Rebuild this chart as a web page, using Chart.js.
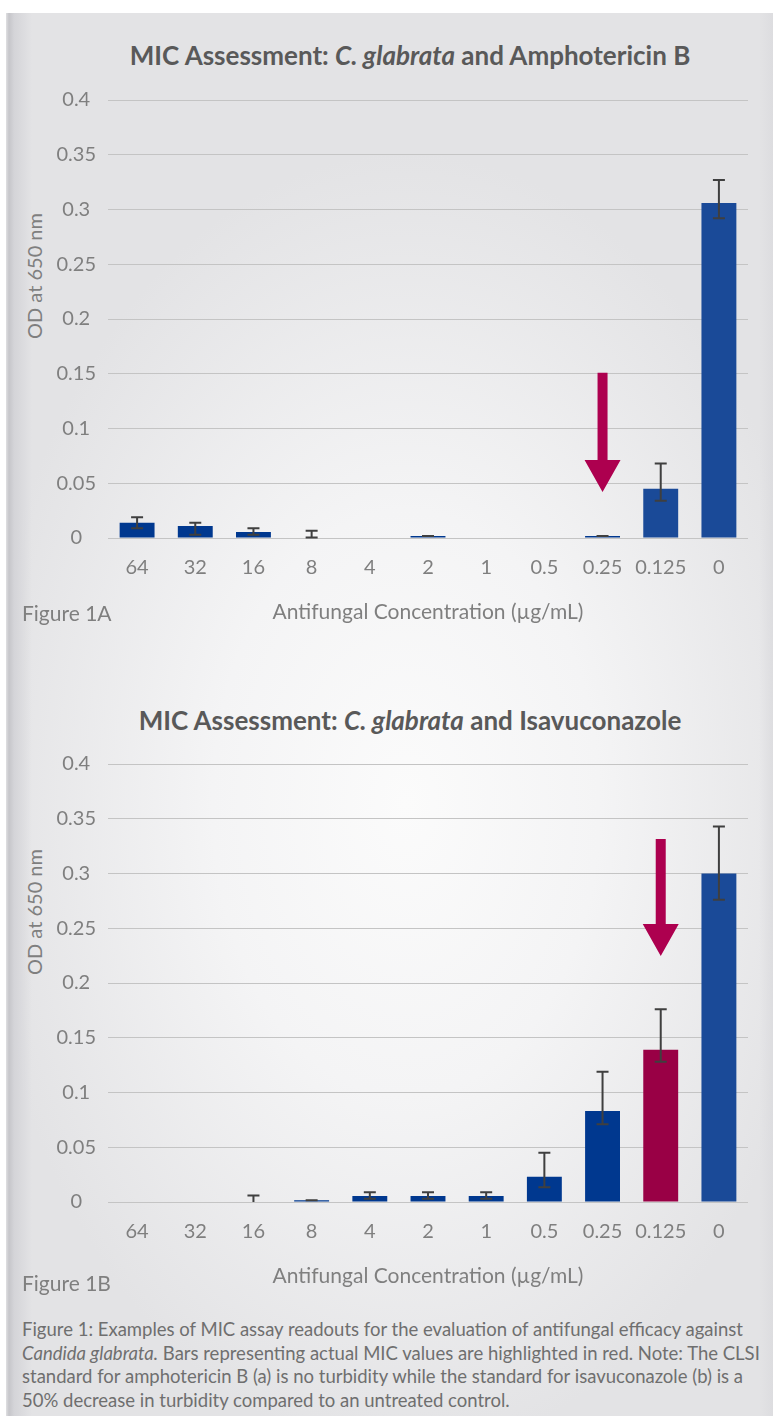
<!DOCTYPE html>
<html>
<head>
<meta charset="utf-8">
<script src="https://cdn.jsdelivr.net/npm/chart.js@4.4.1/dist/chart.umd.min.js"></script>
<style>
  html, body { margin: 0; padding: 0; background: #ffffff; }
  body { width: 773px; height: 1416px; position: relative; overflow: hidden; font-family: Lato, "Open Sans", sans-serif; }
  #panel {
    position: absolute; left: 6px; top: 13px; width: 767px; height: 1403px;
    background: radial-gradient(ellipse 430px 650px at 400px 790px, #fbfbfb 0%, #f4f4f5 45%, #e3e3e5 100%);
  }
  #panel::before {
    content: ""; position: absolute; left: 0; top: 0; bottom: 0; width: 26px;
    background: linear-gradient(to right, #e0e0e2 0px, #c6c6ca 3px, #d4d4d8 8px, rgba(227,227,229,0) 26px);
  }
  #panel::after {
    content: ""; position: absolute; right: 0; top: 0; bottom: 0; width: 14px;
    background: linear-gradient(to left, rgba(220,220,223,0.9) 0px, rgba(227,227,229,0) 14px);
  }
  canvas { position: absolute; left: 6px; }
  .title {
    position: absolute; left: 0; width: 820px; text-align: center;
    font-weight: 700; font-size: 26px; line-height: 30px; color: #595959;
  }
  .ytitle {
    position: absolute; width: 200px; height: 24px; line-height: 24px; text-align: center;
    font-size: 20px; color: #7f7f7f; transform: rotate(-90deg);
  }
  .fig {
    position: absolute; left: 22px; font-size: 21px; line-height: 24px; color: #7f7f7f;
  }
  .caption {
    position: absolute; left: 22px; top: 1318px; font-size: 18.5px; line-height: 23.7px; color: #6f6f6f;
    white-space: nowrap;
  }
</style>
</head>
<body>
<div id="panel"></div>

<div class="title" style="top:40px">MIC Assessment: <i>C. glabrata</i> and Amphotericin B</div>
<div class="ytitle" style="left:-66px; top:264px">OD at 650 nm</div>
<canvas id="ampB" width="767" height="620" style="top:13px"></canvas>
<div class="fig" style="top:601px">Figure 1A</div>

<div class="title" style="top:705px">MIC Assessment: <i>C. glabrata</i> and Isavuconazole</div>
<div class="ytitle" style="left:-66px; top:900px">OD at 650 nm</div>
<canvas id="isa" width="767" height="650" style="top:650px"></canvas>
<div class="fig" style="top:1271px">Figure 1B</div>

<div class="caption">Figure 1: Examples of MIC assay readouts for the evaluation of antifungal efficacy against<br><i>Candida glabrata.</i> Bars representing actual MIC values are highlighted in red. Note: The CLSI<br>standard for amphotericin B (a) is no turbidity while the standard for isavuconazole (b) is a<br>50% decrease in turbidity compared to an untreated control.</div>

<script>
// Antifungal concentrations (µg/mL), shared by both panels
const concentrations = ['64', '32', '16', '8', '4', '2', '1', '0.5', '0.25', '0.125', '0'];

// Y axis ticks (OD at 650 nm)
const odMin = 0;
const odMax = 0.4;
const odStep = 0.05;

// Panel A: C. glabrata + amphotericin B
const ampBOd        = [0.014, 0.011, 0.0055, 0.0005, 0, 0.0018, 0, 0, 0.0018, 0.045, 0.306];
const ampBErrPlus   = [0.005, 0.003, 0.0035, 0.0062, null, 0, null, null, 0, 0.023, 0.021];
const ampBErrMinus  = [0.005, 0.008, 0.0025, 0,      null, 0, null, null, 0, 0.011, 0.014];
const ampBMicMark   = { category: '0.25', from: 0.151, to: 0.042 };

// Panel B: C. glabrata + isavuconazole
const isaOd         = [0, 0, 0, 0.0015, 0.0055, 0.0055, 0.0055, 0.023, 0.083, 0.139, 0.300];
const isaErrPlus    = [null, null, 0.006, 0, 0.0034, 0.0034, 0.0034, 0.022, 0.036, 0.037, 0.043];
const isaErrMinus   = [null, null, 0,     0, 0.0025, 0.0025, 0.0025, 0.0095, 0.012, 0.011, 0.024];
const isaMicMark    = { category: '0.125', from: 0.3315, to: 0.2247 };

// Colours
const NAVY = '#00388f';
const BLUE = '#1a4a98';
const RED = '#990045';
const ARROW = '#ad004f';
const ampBColors = [NAVY, NAVY, NAVY, NAVY, NAVY, NAVY, NAVY, NAVY, NAVY, BLUE, BLUE];
const isaColors  = [NAVY, NAVY, NAVY, NAVY, NAVY, NAVY, NAVY, NAVY, NAVY, RED, BLUE];

// Draws asymmetric error bars on top of the bars
const errorBarsPlugin = {
  id: 'errorBars',
  afterDatasetsDraw(chart, args, opts) {
    const { ctx } = chart;
    const y = chart.scales.y;
    const meta = chart.getDatasetMeta(0);
    const values = chart.data.datasets[0].data;
    ctx.save();
    ctx.strokeStyle = opts.color;
    ctx.lineWidth = opts.lineWidth;
    ctx.lineCap = 'butt';
    values.forEach((v, i) => {
      const plus = opts.plus[i];
      const minus = opts.minus[i];
      if (plus === null || plus === undefined) return;
      const x = meta.data[i].x;
      const hi = v + plus;
      const lo = v - minus;
      const yHi = y.getPixelForValue(hi);
      const yLo = y.getPixelForValue(lo);
      const hw = opts.capWidth / 2;
      ctx.beginPath();
      if (yLo - yHi > 0.5) {
        ctx.moveTo(x, yHi);
        ctx.lineTo(x, yLo);
      }
      ctx.moveTo(x - hw, yHi);
      ctx.lineTo(x + hw, yHi);
      if (lo > 0) {
        ctx.moveTo(x - hw, yLo);
        ctx.lineTo(x + hw, yLo);
      }
      ctx.stroke();
    });
    ctx.restore();
  }
};

// Downward arrow pointing at the MIC concentration
const micArrowPlugin = {
  id: 'micArrow',
  afterDatasetsDraw(chart, args, opts) {
    const { ctx } = chart;
    const xs = chart.scales.x;
    const ys = chart.scales.y;
    const x = xs.getPixelForValue(chart.data.labels.indexOf(opts.mark.category));
    const yTop = ys.getPixelForValue(opts.mark.from);
    const yTip = ys.getPixelForValue(opts.mark.to);
    const yBase = yTip - opts.headLength;
    const sw = opts.shaftWidth / 2;
    const hw = opts.headWidth / 2;
    ctx.save();
    ctx.fillStyle = opts.color;
    ctx.beginPath();
    ctx.moveTo(x - sw, yTop);
    ctx.lineTo(x + sw, yTop);
    ctx.lineTo(x + sw, yBase);
    ctx.lineTo(x + hw, yBase);
    ctx.lineTo(x, yTip);
    ctx.lineTo(x - hw, yBase);
    ctx.lineTo(x - sw, yBase);
    ctx.closePath();
    ctx.fill();
    ctx.restore();
  }
};

function makeChart(canvasId, values, colors, plus, minus, mark, padTop, padBottom) {
  return new Chart(document.getElementById(canvasId), {
    type: 'bar',
    data: {
      labels: concentrations,
      datasets: [{
        data: values,
        backgroundColor: colors,
        borderWidth: 0,
        categoryPercentage: 1,
        barPercentage: 0.6
      }]
    },
    options: {
      responsive: false,
      animation: false,
      devicePixelRatio: 1,
      layout: { padding: { left: 8, right: 25, top: padTop, bottom: padBottom } },
      plugins: {
        legend: { display: false },
        title: { display: false },
        tooltip: { enabled: false },
        errorBars: { plus: plus, minus: minus, color: '#3f3f3f', lineWidth: 2, capWidth: 12 },
        micArrow: { mark: mark, color: ARROW, shaftWidth: 10, headWidth: 36, headLength: 32 }
      },
      scales: {
        x: {
          grid: { display: false, drawTicks: false },
          border: { display: false },
          ticks: {
            padding: 18,
            color: '#7f7f7f',
            font: { family: 'Lato', size: 20 },
            maxRotation: 0,
            autoSkip: false
          },
          title: {
            display: true,
            text: 'Antifungal Concentration (µg/mL)',
            color: '#7f7f7f',
            font: { family: 'Lato', size: 21 },
            padding: { top: 0, bottom: 0 }
          },
          afterFit(scale) { scale.height = 87; }
        },
        y: {
          min: odMin,
          max: odMax,
          grid: { color: '#c4c4c4', lineWidth: 1, drawTicks: false },
          border: { display: false },
          ticks: {
            stepSize: odStep,
            padding: 12,
            crossAlign: 'center',
            color: '#7f7f7f',
            font: { family: 'Lato', size: 20 },
            callback: (v) => String(Number(v.toFixed(2)))
          },
          afterFit(scale) { scale.width = 94; }
        }
      }
    },
    plugins: [errorBarsPlugin, micArrowPlugin]
  });
}

makeChart('ampB', ampBOd, ampBColors, ampBErrPlus, ampBErrMinus, ampBMicMark, 87, 8);
makeChart('isa', isaOd, isaColors, isaErrPlus, isaErrMinus, isaMicMark, 114, 11);
</script>
</body>
</html>
